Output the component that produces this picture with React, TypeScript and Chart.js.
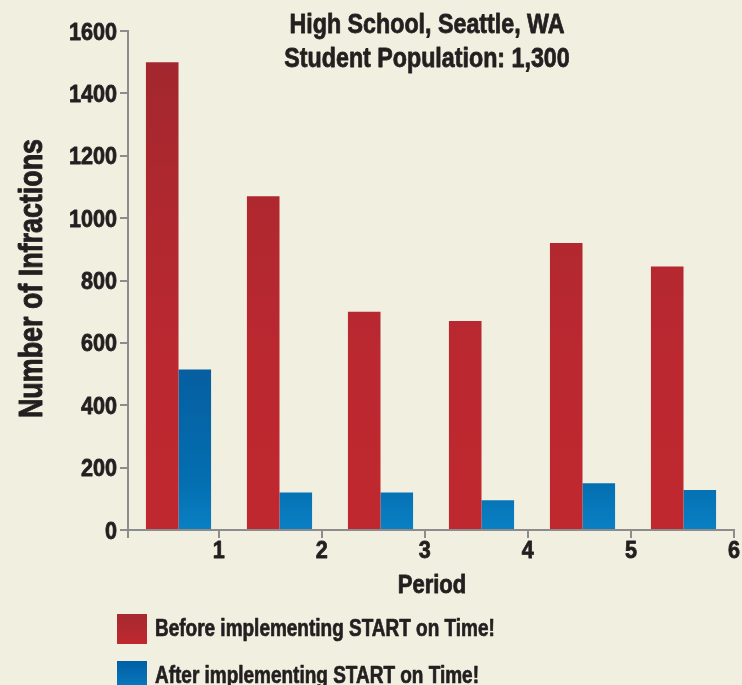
import React, { useEffect, useRef } from 'react';
import { Chart, registerables } from 'chart.js';

Chart.register(...registerables);

// ---- data ----
const PERIODS = ['1', '2', '3', '4', '5', '6'];
const BEFORE = [1500, 1070, 700, 670, 920, 845];
const AFTER = [515, 120, 120, 95, 150, 128];
const X_TICKS = [1, 2, 3, 4, 5, 6];
const X_MIN = 0.12;
const X_MAX = 6;
const Y_TICKS = [0, 200, 400, 600, 800, 1000, 1200, 1400, 1600];
const TITLE_LINES = ['High School, Seattle, WA', 'Student Population: 1,300'];
const LEGEND_LABELS = ['Before implementing START on Time!', 'After implementing START on Time!'];
const X_TITLE = 'Period';
const Y_TITLE = 'Number of Infractions';

// ---- styles ----
const FONT = "'Liberation Sans', Arial, sans-serif";
const TEXT = '#231f20';
const BG = '#f1efdf';
const AXIS = '#8c8c8c';
const RED_STOPS: [number, string][] = [[0, '#a0272e'], [0.35, '#b0282f'], [0.65, '#bb2830'], [1, '#c0282f']];
const BLUE_STOPS: [number, string][] = [[0, '#0a4c8e'], [0.67, '#065ea0'], [0.9, '#036eb0'], [1, '#0a80c4']];
const LEGEND_RED: [number, string][] = [[0, '#a52a30'], [1, '#c0282f']];
const LEGEND_BLUE: [number, string][] = [[0, '#005fa5'], [1, '#0a7cc0']];

function makeGrad(ctx: any, stops: [number, string][]) {
  const chart = ctx.chart;
  const a = chart.chartArea;
  if (!a) return stops[stops.length - 1][1];
  const g = chart.ctx.createLinearGradient(0, a.top, 0, a.bottom);
  stops.forEach(([o, c]) => g.addColorStop(o, c));
  return g;
}

// condensed heavy text: Liberation Sans Bold squeezed horizontally, lightly stroked
function drawNarrow(
  ctx: CanvasRenderingContext2D,
  text: string,
  x: number,
  y: number,
  size: number,
  sx: number,
  align: CanvasTextAlign,
  rotate = 0,
  weight = 0.8
) {
  ctx.save();
  ctx.translate(x, y);
  if (rotate) ctx.rotate(rotate);
  ctx.scale(sx, 1);
  ctx.font = `bold ${size}px ${FONT}`;
  ctx.fillStyle = TEXT;
  ctx.strokeStyle = TEXT;
  ctx.lineWidth = weight;
  ctx.lineJoin = 'round';
  ctx.textAlign = align;
  ctx.textBaseline = 'alphabetic';
  ctx.fillText(text, 0, 0);
  ctx.strokeText(text, 0, 0);
  ctx.restore();
}

const textPlugin = {
  id: 'narrowText',
  afterDraw(chart: any) {
    const { ctx, chartArea } = chart;
    const ys = chart.scales.y;
    const xs = chart.scales.xt;
    const cx = (chartArea.left + chartArea.right) / 2;

    // titles
    drawNarrow(ctx, TITLE_LINES[0], cx - 4, chartArea.top + 2, 28, 0.83, 'center');
    drawNarrow(ctx, TITLE_LINES[1], cx - 4, chartArea.top + 36, 28, 0.83, 'center');

    // y tick labels
    Y_TICKS.forEach((v) => {
      const y = ys.getPixelForValue(v);
      drawNarrow(ctx, String(v), chartArea.left - 11, y + 8.5, 24, 0.9, 'right');
    });

    // x tick labels
    X_TICKS.forEach((v) => {
      const x = xs.getPixelForValue(v);
      drawNarrow(ctx, String(v), x, chartArea.bottom + 28, 24, 0.9, 'center');
    });

    // axis titles
    drawNarrow(ctx, X_TITLE, cx + 1, chartArea.bottom + 63, 25, 0.88, 'center');
    drawNarrow(ctx, Y_TITLE, 42, (chartArea.top + chartArea.bottom) / 2 - 2, 34, 0.79, 'center', -Math.PI / 2, 1);

    // legend
    const items: [string, [number, string][]][] = [
      [LEGEND_LABELS[0], LEGEND_RED],
      [LEGEND_LABELS[1], LEGEND_BLUE],
    ];
    items.forEach(([label, stops], i) => {
      const top = chartArea.bottom + 84 + i * 47;
      const left = chartArea.left - 11;
      const g = ctx.createLinearGradient(0, top, 0, top + 30);
      stops.forEach(([o, c]) => g.addColorStop(o, c));
      ctx.save();
      ctx.fillStyle = g;
      ctx.fillRect(left, top, 30, 30);
      ctx.restore();
      drawNarrow(ctx, label, left + 38, top + 22, 23, 0.825, 'left', 0, 0.7);
    });
  },
};

export default function App() {
  const ref = useRef<HTMLCanvasElement | null>(null);

  useEffect(() => {
    document.body.style.margin = '0';
    document.body.style.background = BG;
    const canvas = ref.current;
    if (!canvas) return;
    const chart = new Chart(canvas, {
      type: 'bar',
      data: {
        labels: PERIODS,
        datasets: [
          {
            label: LEGEND_LABELS[0],
            data: BEFORE,
            backgroundColor: (c: any) => makeGrad(c, RED_STOPS),
            borderWidth: 0,
            categoryPercentage: 0.645,
            barPercentage: 1,
            xAxisID: 'x',
            yAxisID: 'y',
          },
          {
            label: LEGEND_LABELS[1],
            data: AFTER,
            backgroundColor: (c: any) => makeGrad(c, BLUE_STOPS),
            borderWidth: 0,
            categoryPercentage: 0.645,
            barPercentage: 1,
            xAxisID: 'x',
            yAxisID: 'y',
          },
        ],
      },
      options: {
        animation: false,
        responsive: false,
        maintainAspectRatio: false,
        layout: { padding: { top: 31, right: 8, bottom: 70, left: 0 } },
        plugins: {
          legend: { display: false },
          tooltip: { enabled: false },
          title: { display: false },
        },
        scales: {
          x: { type: 'category', display: false, offset: true },
          xt: {
            type: 'linear',
            position: 'bottom',
            offset: false,
            min: X_MIN,
            max: X_MAX,
            afterBuildTicks: (s: any) => {
              s.ticks = [{ value: X_MIN }, ...X_TICKS.map((v) => ({ value: v }))];
            },
            afterFit: (s: any) => {
              s.height = 85;
            },
            ticks: { display: false },
            grid: {
              offset: false,
              drawOnChartArea: false,
              drawTicks: true,
              tickLength: 8,
              color: AXIS,
              lineWidth: 2,
            },
            border: { display: true, color: AXIS, width: 2 },
          },
          y: {
            type: 'linear',
            min: Y_TICKS[0],
            max: Y_TICKS[Y_TICKS.length - 1],
            afterBuildTicks: (s: any) => {
              s.ticks = Y_TICKS.map((v) => ({ value: v }));
            },
            afterFit: (s: any) => {
              s.width = 128;
            },
            ticks: { display: false },
            grid: { drawOnChartArea: false, drawTicks: true, tickLength: 8, color: AXIS, lineWidth: 2 },
            border: { display: true, color: AXIS, width: 2 },
          },
        },
      },
      plugins: [textPlugin],
    } as any);
    return () => chart.destroy();
  }, []);

  return (
    <div style={{ position: 'relative', width: 742, height: 685, background: BG, overflow: 'hidden' }}>
      <canvas ref={ref} width={742} height={685} style={{ display: 'block', width: 742, height: 685 }} />
    </div>
  );
}
